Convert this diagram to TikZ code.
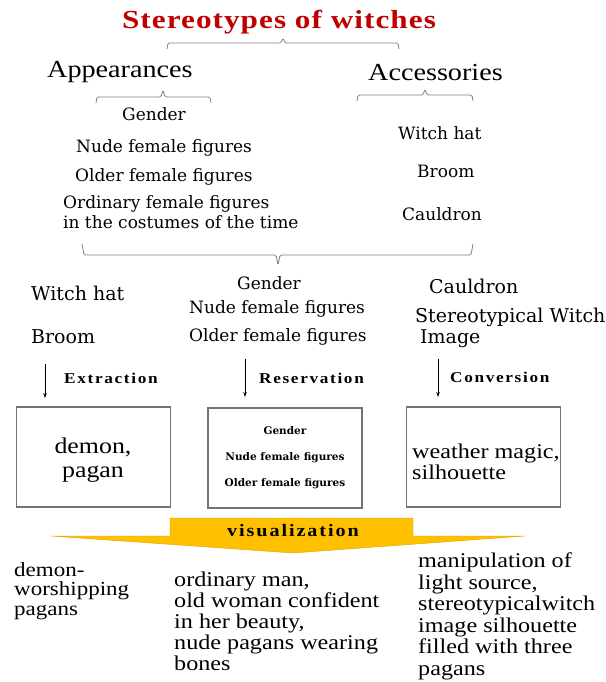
\documentclass[tikz,border=0pt]{standalone}
\usepackage{fontspec}
\setmainfont{Liberation Serif}
\newfontfamily\wideserif[FakeStretch=1.15]{Liberation Serif}
\newfontfamily\titleserif[FakeStretch=1.2,LetterSpace=4]{Liberation Serif}
\newfontfamily\stageserif[FakeStretch=1.15,LetterSpace=11]{Liberation Serif}
\newfontfamily\slabserif{DejaVu Serif}
\usepackage{xcolor}
\usepackage{tikz}
\usetikzlibrary{arrows.meta}
\definecolor{titlered}{HTML}{C00000}
\definecolor{banneryellow}{HTML}{FFC000}
\tikzset{
  wtitle/.style={inner sep=0pt, text=titlered, font=\fontsize{26}{30}\titleserif\bfseries},
  whead/.style={inner sep=0pt, anchor=west, font=\fontsize{24.5}{28}\wideserif},
  witem/.style={inner sep=0pt, anchor=west, font=\fontsize{17}{20}\slabserif},
  witembig/.style={inner sep=0pt, anchor=west, font=\fontsize{19}{21}\slabserif},
  wstage/.style={inner sep=0pt, anchor=west, font=\fontsize{15}{18}\stageserif\bfseries},
  wbrace/.style={line width=0.8pt, draw=black!50, rounded corners=1.5pt},
  wdown/.style={line width=0.6pt, draw=black, -{Stealth[length=5pt,width=3.5pt]}},
  wframe/.style={draw=black!55, line width=1.3pt, minimum width=154, minimum height=100, inner sep=0pt},
  wbanner/.style={fill=banneryellow, draw=banneryellow!85!black, line width=0.4pt},
  wout/.style={inner sep=0pt, anchor=north west, align=left},
}
\begin{document}
\begin{tikzpicture}[x=1pt,y=-1pt]
\useasboundingbox (0,0) rectangle (605,682);
% heading and the two groups
\node[wtitle] (title) at (279,22) {Stereotypes of witches};
\draw[wbrace] (167,49) -- (168,43) -- (281,43) -- (283,38) -- (285,43) -- (398,43) -- (399,49);
\node[whead] (appear) at (47,72) {Appearances};
\node[whead] (access) at (368,73) {Accessories};
\draw[wbrace] (96,103) -- (97,97) -- (161,97) -- (163,90) -- (165,97) -- (210,97) -- (211,103);
\draw[wbrace] (357,101) -- (358,95) -- (423,95) -- (425,89) -- (427,95) -- (472,95) -- (473,101);
% appearances
\node[witem, anchor=center] (ap1) at (154,114) {Gender};
\node[witem] (ap2) at (76,148) {Nude female figures};
\node[witem] (ap3) at (75,177) {Older female figures};
\node[witem, anchor=north west, align=left] (ap4) at (63,195) {Ordinary female figures\\in the costumes of the time};
% accessories
\node[witem] (ac1) at (398,133) {Witch hat};
\node[witem] (ac2) at (417,171) {Broom};
\node[witem] (ac3) at (402,214) {Cauldron};
\draw[wbrace] (82,244) -- (84,255) -- (276,255) -- (278,265) -- (280,255) -- (471,255) -- (473,244);
% three ways
\node[witembig] (ex1) at (31,293) {Witch hat};
\node[witembig] (ex2) at (31,337) {Broom};
\node[witem, anchor=center] (re1) at (269,283) {Gender};
\node[witem] (re2) at (189,309) {Nude female figures};
\node[witem] (re3) at (189,337) {Older female figures};
\node[witembig] (co1) at (429,286) {Cauldron};
\node[witembig, anchor=north west, align=left] (co2) at (415,308) {Stereotypical Witch\\\hspace*{5pt}Image};
\coordinate (exa) at (45,364);
\coordinate (exb) at (45,398);
\coordinate (rea) at (245,359);
\coordinate (reb) at (245,397);
\coordinate (coa) at (438,359);
\coordinate (cob) at (438,397);
\draw[wdown] (exa) -- (exb);
\draw[wdown] (rea) -- (reb);
\draw[wdown] (coa) -- (cob);
\node[wstage] (extract) at (64,378) {Extraction};
\node[wstage] (reserve) at (259,378) {Reservation};
\node[wstage] (convert) at (450,377) {Conversion};
% result boxes
\node[wframe] (box1) at (93.5,457) {};
\node[inner sep=0pt, align=center, font=\fontsize{22.5}{23.5}\wideserif] (box1txt) at (93,460) {demon,\\pagan};
\node[wframe, align=center, font=\fontsize{10.5}{26}\slabserif\bfseries] (box2) at (285,458) {Gender\\Nude female figures\\Older female figures};
\node[wframe] (box3) at (483.5,457) {};
\node[inner sep=0pt, anchor=west, align=left, font=\fontsize{21}{21}\wideserif] (box3txt) at (412,462) {weather magic,\\silhouette};
% visualization banner
\draw[wbanner] (170,518) -- (413,518) -- (413,536) -- (525,536) -- (293,553) -- (51,536) -- (170,536) -- cycle;
\node[inner sep=0pt, font=\fontsize{17.5}{20}\stageserif\bfseries] (visual) at (293,531) {visualization};
\node[wout, font=\fontsize{20}{19.5}\wideserif] (out1) at (14,562) {demon-\\worshipping\\pagans};
\node[wout, font=\fontsize{21}{21}\wideserif] (out2) at (174,572) {ordinary man,\\old woman confident\\in her beauty,\\nude pagans  wearing\\bones};
\node[wout, font=\fontsize{21}{21.5}\wideserif] (out3) at (418,553) {manipulation of\\light source,\\stereotypicalwitch\\image silhouette\\filled with three\\pagans};
\end{tikzpicture}
\end{document}
